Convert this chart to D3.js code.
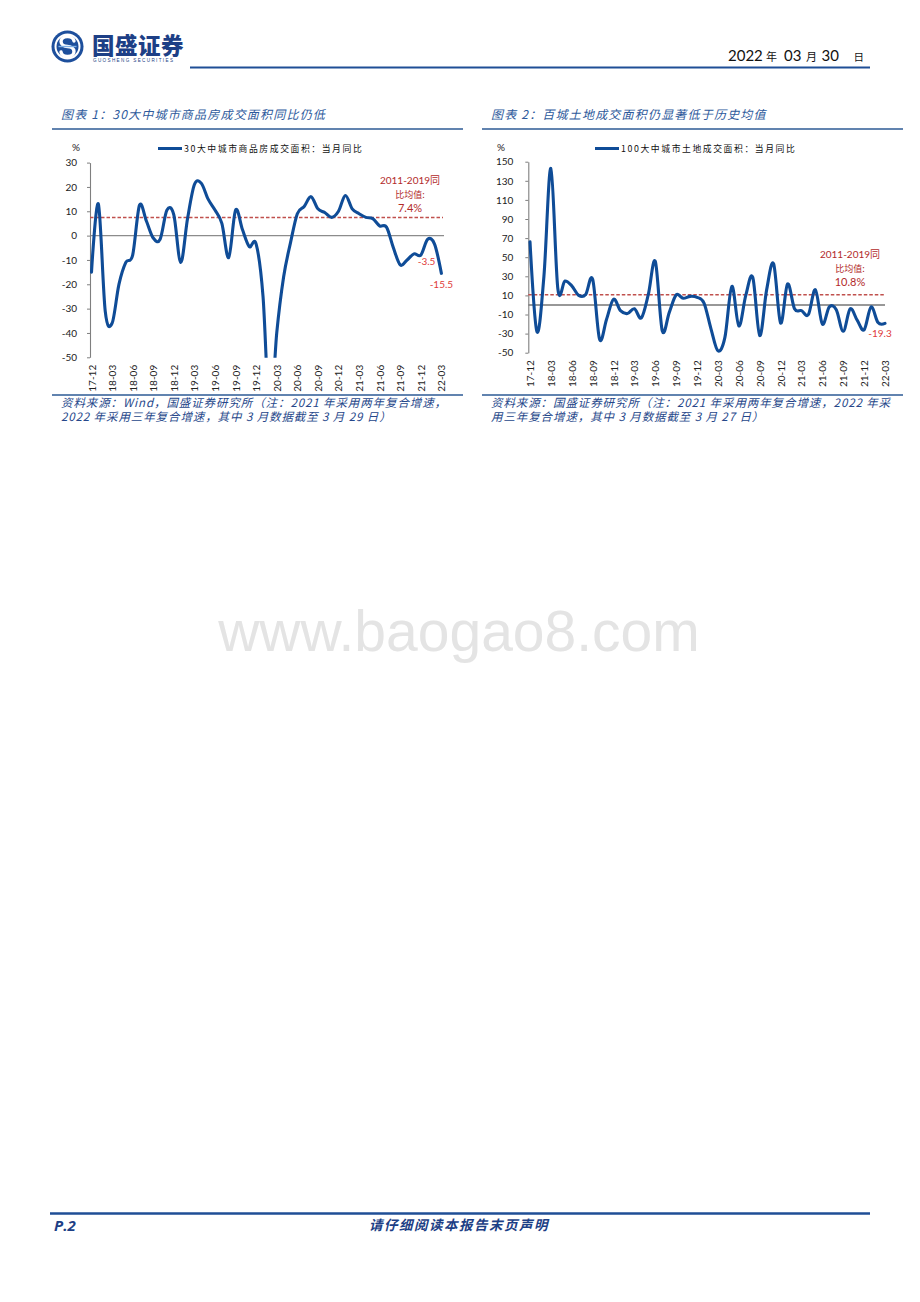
<!DOCTYPE html>
<html>
<head>
<meta charset="utf-8">
<script src="https://cdn.jsdelivr.net/npm/d3@7"></script>
<style>
  html, body { margin: 0; padding: 0; background: #fff; }
  svg { display: block; }
</style>
</head>
<body>
<svg id="page" width="920" height="1302"></svg>
<script>
// ---- data ----
const months = ["17-12","18-01","18-02","18-03","18-04","18-05","18-06","18-07","18-08","18-09","18-10","18-11","18-12",
  "19-01","19-02","19-03","19-04","19-05","19-06","19-07","19-08","19-09","19-10","19-11","19-12",
  "20-01","20-02","20-03","20-04","20-05","20-06","20-07","20-08","20-09","20-10","20-11","20-12",
  "21-01","21-02","21-03","21-04","21-05","21-06","21-07","21-08","21-09","21-10","21-11","21-12",
  "22-01","22-02","22-03"];
const xTickLabels = ["17-12","18-03","18-06","18-09","18-12","19-03","19-06","19-09","19-12",
  "20-03","20-06","20-09","20-12","21-03","21-06","21-09","21-12","22-03"];

// 30 cities: commodity housing transaction area, monthly YoY (%)
const housingYoY = [-15, 13, -31, -36, -20, -11, -8, 12.5, 6, -1, -1.5, 10.5, 8.5,
  -11, 7, 21, 21.5, 15, 10.5, 5, -9, 10.5, 2.5, -4.5, -3.5,
  -25, -75, -40, -17, -3, 9, 12, 16, 11, 9.5, 7.5, 10,
  16.5, 11, 9, 7.5, 7, 4, 3.5, -5, -12, -10, -7.5, -8,
  -1.5, -3.5, -15.5];
// 100 cities: land transaction area, monthly YoY (%)
const landYoY = [66, -28, 30, 143, 17, 25, 20, 10, 11, 27, -36, -15, 6,
  -6, -9, -4, -13.6, 11, 45.6, -27, -8, 10.5, 7, 9, 8,
  2, -25, -48, -34, 19.5, -22, 10, 29, -32, 16, 43, -19,
  22, -4, -6, -10, 16, -20, -2, -5, -27.6, -4, -16, -26,
  -2, -18.5, -19.3];

const housingTicks = [30, 20, 10, 0, -10, -20, -30, -40, -50];
const landTicks = [150, 130, 110, 90, 70, 50, 30, 10, -10, -30, -50];
const housingAvg = 7.4;
const landAvg = 10.8;
const housingLegend = "30大中城市商品房成交面积：当月同比";
const landLegend = "100大中城市土地成交面积：当月同比";

// plain hyphen-minus for negative numbers
const fmtInt = d => String(d);
const fmt1 = d => d.toFixed(1);

// ---- page ----
const BLUE = "#1f4e96";
const LINE = "#0f4c97";
const svg = d3.select("#page");
svg.append("rect").attr("width", 920).attr("height", 1302).attr("fill", "#fff");

// header logo
const logo = svg.append("g").attr("transform", "translate(67.5,46.5)");
logo.append("circle").attr("r", 16).attr("fill", "#1d4f9c");
logo.append("circle").attr("r", 12).attr("fill", "none").attr("stroke", "#fff").attr("stroke-width", 2);
logo.append("path")
  .attr("d", "M6.5,-5.5 A6.5,5 0 1 0 0,0 A6.5,5 0 1 1 -6.5,5.5")
  .attr("fill", "none").attr("stroke", "#fff").attr("stroke-width", 3.4).attr("stroke-linecap", "round");
logo.append("line").attr("x1", -9).attr("x2", 9).attr("y1", 0).attr("y2", 0)
  .attr("stroke", "#7fb0e6").attr("stroke-width", 1.4);

svg.append("text").attr("x", 92).attr("y", 54)
  .attr("font-family", "'Noto Sans CJK SC'").attr("font-weight", 900).attr("font-size", 22.5)
  .attr("fill", "#1d3f86").attr("letter-spacing", 0.5).text("国盛证券");
svg.append("text").attr("x", 93).attr("y", 61.5)
  .attr("font-family", "'Liberation Sans'").attr("font-size", 4.6).attr("letter-spacing", 1.35)
  .attr("fill", "#1d3f86").text("GUOSHENG SECURITIES");

svg.append("line").attr("x1", 190).attr("x2", 870).attr("y1", 67.5).attr("y2", 67.5)
  .attr("stroke", BLUE).attr("stroke-width", 2);

// report date
[["2022", 728, 15, "Lato"], ["年", 766, 11, "'Noto Sans CJK SC'"],
 ["03", 784, 15, "Lato"], ["月", 806, 11, "'Noto Sans CJK SC'"],
 ["30", 821.5, 15, "Lato"], ["日", 853.5, 10.5, "'Noto Sans CJK SC'"]].forEach(([t, xPos, s, f]) => {
  svg.append("text").attr("x", xPos).attr("y", 61).attr("font-size", s)
    .attr("font-family", f).attr("fill", "#111").text(t);
});

// watermark
svg.append("text").attr("x", 459).attr("y", 651).attr("text-anchor", "middle")
  .attr("font-family", "'Liberation Sans', Arial").attr("font-size", 57)
  .attr("fill", "#e4e4e4").text("www.baogao8.com");

// footer
svg.append("line").attr("x1", 50).attr("x2", 870).attr("y1", 1213.5).attr("y2", 1213.5)
  .attr("stroke", BLUE).attr("stroke-width", 2.5);
svg.append("text").attr("x", 54).attr("y", 1231)
  .attr("font-family", "'Open Sans', Lato").attr("font-weight", 700).attr("font-style", "italic")
  .attr("font-size", 15).attr("fill", "#1d3f86").text("P.2");
svg.append("text").attr("x", 459).attr("y", 1230).attr("text-anchor", "middle")
  .attr("font-family", "'Noto Sans CJK SC'").attr("font-weight", 700).attr("font-style", "italic")
  .attr("font-size", 13.5).attr("letter-spacing", 1.5).attr("fill", "#1d3f86").text("请仔细阅读本报告末页声明");

// ---- charts ----
function drawChart(cfg) {
  const g = svg.append("g");
  const x = d3.scalePoint().domain(months).range(cfg.xRange);
  const y = d3.scaleLinear().domain(cfg.yDomain).range(cfg.yRange);

  // title and rules
  g.append("text").attr("x", cfg.titleX).attr("y", 119)
    .attr("font-family", "'Noto Sans CJK SC'").attr("font-style", "italic").attr("font-size", 12)
    .attr("letter-spacing", 1.2).attr("fill", "#2e5a9c").text(cfg.title);
  g.append("line").attr("x1", cfg.frame[0]).attr("x2", cfg.frame[1]).attr("y1", 129).attr("y2", 129)
    .attr("stroke", "#2c5a94").attr("stroke-width", 1.6);
  g.append("line").attr("x1", cfg.frame[0]).attr("x2", cfg.frame[1]).attr("y1", 395).attr("y2", 395)
    .attr("stroke", "#2c5a94").attr("stroke-width", 1.6);
  cfg.source.forEach((s, i) => {
    g.append("text").attr("x", cfg.titleX).attr("y", 407 + i * 13.5)
      .attr("font-family", "'Noto Sans CJK SC'").attr("font-style", "italic").attr("font-size", 11.5)
      .attr("letter-spacing", 0.9).attr("fill", "#26478a").text(s);
  });

  // unit
  g.append("text").attr("x", cfg.unitX).attr("y", 151).attr("font-family", "Lato")
    .attr("font-size", 10).attr("fill", "#222").text("%");

  // legend
  g.append("line").attr("x1", cfg.legendX).attr("x2", cfg.legendX + 24)
    .attr("y1", 148.5).attr("y2", 148.5).attr("stroke", LINE).attr("stroke-width", 3);
  g.append("text").attr("x", cfg.legendX + 26).attr("y", 152)
    .attr("font-family", "'Noto Sans CJK SC'").attr("font-size", 8.8).attr("letter-spacing", 1.6)
    .attr("fill", "#111").text(cfg.legend);

  // zero line
  g.append("line").attr("x1", cfg.axisX).attr("x2", cfg.lineEnd).attr("y1", y(0)).attr("y2", y(0))
    .attr("stroke", cfg.zeroColor).attr("stroke-width", 1.1);

  // y axis
  const yAxis = d3.axisLeft(y).tickValues(cfg.ticks).tickSize(3).tickSizeOuter(0)
    .tickPadding(cfg.tickPad).tickFormat(fmtInt);
  const gy = g.append("g").attr("transform", `translate(${cfg.axisX},0)`).call(yAxis);
  gy.select(".domain").attr("stroke", "#7f7f7f").attr("stroke-width", 1.1);
  gy.selectAll(".tick line").attr("stroke", "#7f7f7f");
  gy.selectAll("text").attr("font-family", "Lato").attr("font-size", 10).attr("fill", "#222");

  // x axis labels (category axis crosses at zero, labels sit below the plot)
  const xAxis = d3.axisBottom(x).tickValues(xTickLabels).tickSize(0).tickPadding(0);
  const gx = g.append("g").attr("transform", `translate(0,${cfg.yRange[0]})`).call(xAxis);
  gx.select(".domain").remove();
  gx.selectAll("text").attr("transform", "rotate(-90)").attr("text-anchor", "end")
    .attr("x", -7.5).attr("y", 0).attr("dy", "0.35em")
    .attr("font-family", "Lato").attr("font-size", 10).attr("fill", "#222");

  // historical average
  g.append("line").attr("x1", cfg.axisX).attr("x2", cfg.lineEnd - 1).attr("y1", y(cfg.avg)).attr("y2", y(cfg.avg))
    .attr("stroke", "#c0504d").attr("stroke-width", 1.5).attr("stroke-dasharray", "3.5,2");
  const avgText = g.append("g").attr("font-family", "Lato, 'Noto Sans CJK SC'").attr("text-anchor", "middle")
    .attr("fill", "#b22a2a");
  avgText.append("text").attr("x", cfg.avgLabelX).attr("y", y(cfg.avg) - cfg.avgGap - 28)
    .attr("font-size", 10).text("2011-2019同");
  avgText.append("text").attr("x", cfg.avgLabelX).attr("y", y(cfg.avg) - cfg.avgGap - 14)
    .attr("font-family", "'Noto Sans CJK SC'").attr("font-size", 9).text("比均值:");
  avgText.append("text").attr("x", cfg.avgLabelX).attr("y", y(cfg.avg) - cfg.avgGap)
    .attr("font-size", 11).text(fmt1(cfg.avg) + "%");

  // series line, clipped to the plot area
  const clipId = "clip" + cfg.id;
  g.append("clipPath").attr("id", clipId).append("rect")
    .attr("x", cfg.axisX - 4).attr("y", cfg.yRange[1] - 6)
    .attr("width", cfg.lineEnd - cfg.axisX + 10).attr("height", cfg.yRange[0] - cfg.yRange[1] + 6.5);
  const line = d3.line().x((d, i) => x(months[i])).y(d => y(d)).curve(d3.curveCardinal.tension(0));
  g.append("path").datum(cfg.data).attr("clip-path", `url(#${clipId})`)
    .attr("d", line).attr("fill", "none").attr("stroke", LINE).attr("stroke-width", 3.1)
    .attr("stroke-linejoin", "round").attr("stroke-linecap", "round");

  // value labels
  cfg.valueLabels.forEach(v => {
    const i = months.indexOf(v.month);
    g.append("text").attr("x", x(v.month) + v.dx).attr("y", y(cfg.data[i]) + v.dy)
      .attr("text-anchor", "middle").attr("font-family", "Lato").attr("font-size", 10)
      .attr("fill", "#e03a3a").text(fmt1(cfg.data[i]));
  });
}

drawChart({
  id: 1,
  title: "图表 1：30大中城市商品房成交面积同比仍低",
  titleX: 61,
  frame: [52, 463],
  source: ["资料来源：Wind，国盛证券研究所（注：2021 年采用两年复合增速，",
           "2022 年采用三年复合增速，其中 3 月数据截至 3 月 29 日）"],
  unitX: 72,
  legendX: 158,
  legend: housingLegend,
  axisX: 90,
  xRange: [91.5, 441.4],
  yDomain: [-50, 30],
  yRange: [357.3, 162.6],
  ticks: housingTicks,
  tickPad: 10,
  lineEnd: 444,
  zeroColor: "#8c8c8c",
  data: housingYoY,
  avg: housingAvg,
  avgLabelX: 410,
  avgGap: 5.5,
  valueLabels: [{ month: "22-02", dx: -8, dy: 21 }, { month: "22-03", dx: 0, dy: 15 }]
});

drawChart({
  id: 2,
  title: "图表 2：百城土地成交面积仍显著低于历史均值",
  titleX: 491,
  frame: [482, 903],
  source: ["资料来源：国盛证券研究所（注：2021 年采用两年复合增速，2022 年采",
           "用三年复合增速，其中 3 月数据截至 3 月 27 日）"],
  unitX: 497,
  legendX: 595,
  legend: landLegend,
  axisX: 528.3,
  xRange: [530, 885],
  yDomain: [-50, 150],
  yRange: [352.7, 161.7],
  ticks: landTicks,
  tickPad: 12,
  lineEnd: 885,
  zeroColor: "#333",
  data: landYoY,
  avg: landAvg,
  avgLabelX: 850,
  avgGap: 8.5,
  valueLabels: [{ month: "22-03", dx: -5, dy: 14 }]
});
</script>
</body>
</html>
